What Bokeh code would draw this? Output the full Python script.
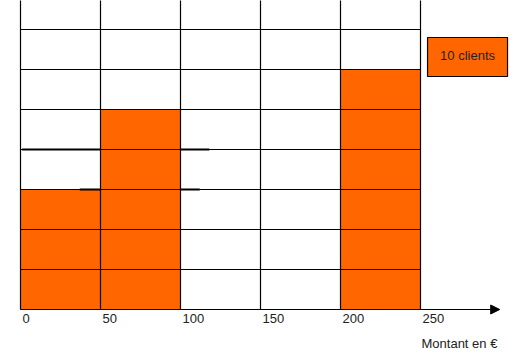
from bokeh.plotting import figure
from bokeh.models import Arrow, NormalHead, ColumnDataSource
from bokeh.core.properties import value
from bokeh.embed import file_html
from bokeh.resources import INLINE

# ---- data ----
bin_left = [0, 50, 200]
bin_right = [50, 100, 250]
clients = [30, 50, 60]
x_ticks = [0, 50, 100, 150, 200, 250]
x_tick_labels = ["0", "50", "100", "150", "200", "250"]
y_grid = [0, 10, 20, 30, 40, 50, 60, 70]
x_title = "Montant en €"
legend_clients = 10
legend_label = "10 clients"
# stray strokes visible in the original drawing (y, x0, x1)
stray_y = [40, 40, 30, 30]
stray_x0 = [1, 100, 37, 100]
stray_x1 = [50, 118, 50, 112]

ORANGE = "#FF6600"
FONT = value("Liberation Sans")

p = figure(width=526, height=361, output_backend="svg", toolbar_location=None,
           x_range=(-12.5, 316.25), y_range=(-13, 77.25), min_border=0)
p.axis.visible = False
p.grid.visible = False
p.outline_line_color = None
p.background_fill_color = "white"
p.border_fill_color = "white"

# bars
p.quad(left=bin_left, right=bin_right, bottom=0, top=clients,
       fill_color=ORANGE, line_color=None)

# grid (drawn over bars)
ymax = 80
p.segment(x0=x_ticks, x1=x_ticks, y0=[0] * len(x_ticks), y1=[ymax] * len(x_ticks),
          line_color="black", line_width=1.2)
p.segment(x0=[0] * len(y_grid), x1=[x_ticks[-1]] * len(y_grid), y0=y_grid, y1=y_grid,
          line_color="black", line_width=1.2)
p.segment(x0=stray_x0, x1=stray_x1, y0=stray_y, y1=stray_y,
          line_color="black", line_width=2)

# x axis arrow
p.add_layout(Arrow(end=NormalHead(size=9, fill_color="black", line_color="black"),
                   x_start=0, y_start=0, x_end=299.5, y_end=0,
                   line_color="black", line_width=1.2))

# tick labels
p.text(x=x_ticks, y=[0] * len(x_ticks), text=x_tick_labels,
       x_offset=2, y_offset=9, text_align="left", text_baseline="middle",
       text_font=FONT, text_font_size="13px", text_color="#222222")
p.text(x=[x_ticks[-1]], y=[0], text=[x_title], x_offset=1, y_offset=34,
       text_align="left", text_baseline="middle",
       text_font=FONT, text_font_size="13px", text_color="#222222")

# legend box: one cell = 10 clients
lx0, lx1 = 254.4, 304.4
ly1 = 68
p.quad(left=[lx0], right=[lx1], top=[ly1], bottom=[ly1 - legend_clients * 0.975],
       fill_color=ORANGE, line_color="black", line_width=1.2)
p.text(x=[(lx0 + lx1) / 2], y=[ly1 - legend_clients * 0.975 / 2], text=[legend_label],
       y_offset=-2, text_align="center", text_baseline="middle",
       text_font=FONT, text_font_size="13px", text_color="#222222")

open("out.html", "w").write(file_html(p, INLINE))
